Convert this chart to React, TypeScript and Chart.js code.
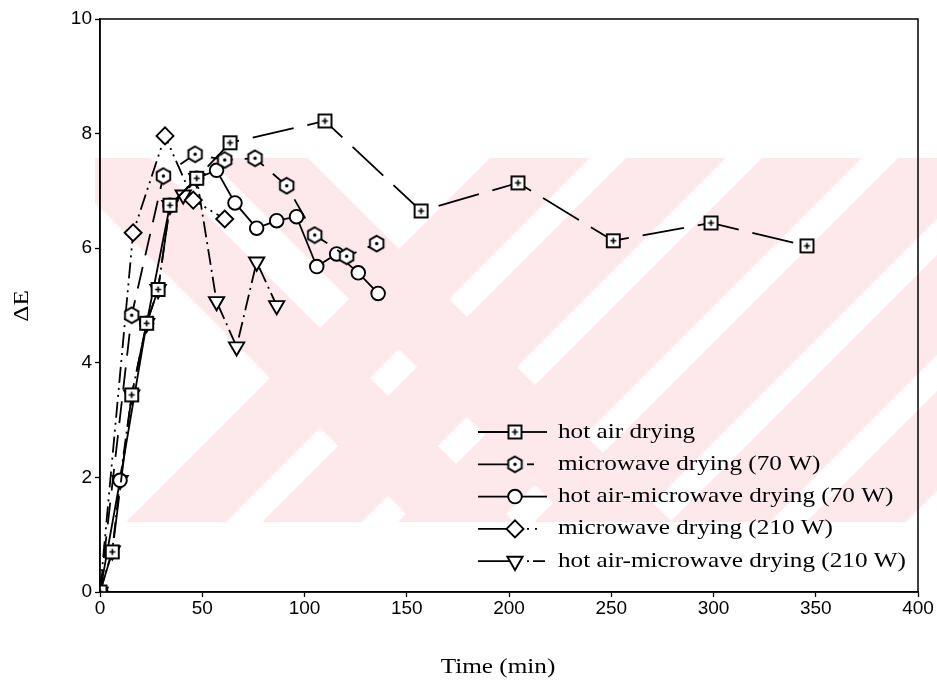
import React, { useEffect, useRef } from "react";
import { Chart, registerables } from "chart.js";
import { drawPoint } from "chart.js/helpers";

Chart.register(...registerables);

// Colour change (ΔE) against drying time for the five drying methods
const hotAirTime = [0, 6, 15.5, 22.8, 28.4, 34.2, 47.3, 63.6, 110, 157, 204.4, 251, 298.8, 345.7];
const hotAirDE = [0, 0.7, 3.44, 4.69, 5.28, 6.75, 7.22, 7.84, 8.22, 6.65, 7.14, 6.13, 6.44, 6.04];

const mw70Time = [0, 15.5, 31, 46.5, 61, 75.8, 91.3, 105, 120.6, 135.3];
const mw70DE = [0, 4.83, 7.26, 7.64, 7.54, 7.57, 7.09, 6.23, 5.86, 6.08];

const haMw70Time = [0, 9.8, 22.8, 34.2, 47.3, 57, 66, 76.6, 86.4, 96.1, 106, 115.7, 126.3, 136];
const haMw70DE = [0, 1.95, 4.69, 6.75, 7.22, 7.36, 6.79, 6.35, 6.48, 6.55, 5.68, 5.9, 5.57, 5.21];

const mw210Time = [0, 16.2, 31.8, 45.6, 61];
const mw210DE = [0, 6.27, 7.96, 6.84, 6.51];

const haMw210Time = [0, 6, 9.8, 15.5, 22.8, 28.4, 34.2, 40.7, 47.3, 57, 66.8, 76.6, 86.4];
const haMw210DE = [0, 0.72, 1.95, 3.44, 4.69, 5.28, 6.75, 6.93, 7.22, 5.07, 4.28, 5.76, 5.0];

const seriesLabels = [
  "hot air drying",
  "microwave drying (70 W)",
  "hot air-microwave drying (70 W)",
  "microwave drying (210 W)",
  "hot air-microwave drying (210 W)",
];

const xTicks = [0, 50, 100, 150, 200, 250, 300, 350, 400];
const yTicks = [0, 2, 4, 6, 8, 10];

const toPoints = (xs: number[], ys: number[]) => xs.map((x, i) => ({ x, y: ys[i] }));

// open square with a small plus inside
function squarePlusMarker(): HTMLCanvasElement {
  const c = document.createElement("canvas");
  c.width = 17;
  c.height = 17;
  const g = c.getContext("2d")!;
  g.fillStyle = "#fff";
  g.strokeStyle = "#000";
  g.lineWidth = 1.9;
  g.fillRect(2, 2, 13, 13);
  g.strokeRect(2, 2, 13, 13);
  g.lineWidth = 1.7;
  g.beginPath();
  g.moveTo(5.5, 8.5);
  g.lineTo(11.5, 8.5);
  g.moveTo(8.5, 5.5);
  g.lineTo(8.5, 11.5);
  g.stroke();
  return c;
}

// open hexagon (pointy top) with a dot in the middle
function hexDotMarker(): HTMLCanvasElement {
  const c = document.createElement("canvas");
  c.width = 19;
  c.height = 19;
  const g = c.getContext("2d")!;
  const cx = 9.5;
  const cy = 9.5;
  const r = 7.8;
  g.beginPath();
  for (let k = 0; k < 6; k++) {
    const a = (Math.PI / 3) * k - Math.PI / 2;
    const px = cx + r * Math.cos(a);
    const py = cy + r * Math.sin(a);
    if (k === 0) g.moveTo(px, py);
    else g.lineTo(px, py);
  }
  g.closePath();
  g.fillStyle = "#fff";
  g.fill();
  g.strokeStyle = "#000";
  g.lineWidth = 1.9;
  g.stroke();
  g.beginPath();
  g.arc(cx, cy, 1.7, 0, Math.PI * 2);
  g.fillStyle = "#000";
  g.fill();
  return c;
}

const serif = "'Liberation Serif', 'Times New Roman', serif";
const sans = "'Liberation Sans', Arial, sans-serif";

// faint pink diagonal stripes printed behind the plot
const watermarkPlugin = {
  id: "watermark",
  beforeDraw(chart: any) {
    const ctx = chart.ctx as CanvasRenderingContext2D;
    const top = 158;
    const bottom = 522;
    const h = bottom - top;
    const w = 100;
    ctx.save();
    ctx.beginPath();
    ctx.rect(95, top, 842, h);
    ctx.clip();
    ctx.fillStyle = "#fde8ec";
    // stripes falling to the right
    for (const s of [50, 208]) {
      ctx.beginPath();
      ctx.moveTo(s, top);
      ctx.lineTo(s + w, top);
      ctx.lineTo(s + w + h, bottom);
      ctx.lineTo(s + h, bottom);
      ctx.closePath();
      ctx.fill();
    }
    // stripes rising to the right
    for (const s of [490, 626, 762, 898, 1034, 1170]) {
      ctx.beginPath();
      ctx.moveTo(s, top);
      ctx.lineTo(s + w, top);
      ctx.lineTo(s + w - h, bottom);
      ctx.lineTo(s - h, bottom);
      ctx.closePath();
      ctx.fill();
    }
    ctx.restore();
  },
};

// the part of each legend sample drawn right of its marker
const legendTails: number[][] = [[], [7, 100], [], [2, 6, 2, 100], [2, 4, 12, 100]];

// frame, axis titles and the in-plot legend
const decorPlugin = {
  id: "decor",
  afterDraw(chart: any) {
    const ctx = chart.ctx as CanvasRenderingContext2D;
    const a = chart.chartArea;
    ctx.save();
    ctx.strokeStyle = "#000";
    ctx.lineWidth = 1.5;
    ctx.strokeRect(a.left, a.top, a.right - a.left, a.bottom - a.top);

    ctx.fillStyle = "#000";
    ctx.font = `21px ${serif}`;
    ctx.textAlign = "center";
    ctx.textBaseline = "middle";
    ctx.save();
    ctx.translate(498, 667);
    ctx.scale(1.2, 1);
    ctx.fillText("Time (min)", 0, 0);
    ctx.restore();

    ctx.save();
    ctx.translate(22, 306);
    ctx.rotate(-Math.PI / 2);
    ctx.scale(1.2, 1);
    ctx.fillText("ΔE", 0, 0);
    ctx.restore();

    // legend
    const x0 = 478;
    const xm = 515;
    const x1 = 547;
    const tx = 558;
    chart.data.datasets.forEach((ds: any, i: number) => {
      const y = 432 + i * 32.3;
      ctx.save();
      ctx.strokeStyle = "#000";
      ctx.lineWidth = 1.8;
      ctx.beginPath();
      ctx.moveTo(x0, y);
      ctx.lineTo(xm, y);
      ctx.stroke();
      const tail = legendTails[i];
      const tailStart = tail.length ? xm + 12 : xm;
      ctx.setLineDash(tail);
      ctx.beginPath();
      ctx.moveTo(tailStart, y);
      ctx.lineTo(x1, y);
      ctx.stroke();
      ctx.setLineDash([]);
      ctx.fillStyle = "#fff";
      ctx.strokeStyle = "#000";
      ctx.lineWidth = ds.pointBorderWidth;
      drawPoint(
        ctx,
        {
          pointStyle: ds.pointStyle,
          radius: ds.pointRadius,
          rotation: ds.pointRotation || 0,
          borderWidth: ds.pointBorderWidth,
        },
        xm,
        y
      );
      ctx.restore();
      ctx.save();
      ctx.fillStyle = "#000";
      ctx.font = `21px ${serif}`;
      ctx.textAlign = "left";
      ctx.textBaseline = "middle";
      ctx.translate(tx, y);
      ctx.scale(1.2, 1);
      ctx.fillText(ds.label, 0, 0);
      ctx.restore();
    });
    ctx.restore();
  },
};

export default function App() {
  const canvasRef = useRef<HTMLCanvasElement | null>(null);

  useEffect(() => {
    const canvas = canvasRef.current;
    if (!canvas) return;
    const square = squarePlusMarker();
    const hex = hexDotMarker();
    const common = {
      showLine: true,
      borderColor: "#000",
      borderWidth: 1.8,
      pointBorderColor: "#000",
      pointBackgroundColor: "#fff",
      pointBorderWidth: 1.9,
      pointHoverRadius: 0,
      tension: 0,
      fill: false,
    };
    const chart = new Chart(canvas, {
      type: "scatter",
      data: {
        datasets: [
          {
            ...common,
            label: seriesLabels[0],
            data: toPoints(hotAirTime, hotAirDE),
            borderDash: [42, 14],
            pointStyle: square,
            pointRadius: 7,
          },
          {
            ...common,
            label: seriesLabels[1],
            data: toPoints(mw70Time, mw70DE),
            borderDash: [22, 12],
            pointStyle: hex,
            pointRadius: 8,
          },
          {
            ...common,
            label: seriesLabels[2],
            data: toPoints(haMw70Time, haMw70DE),
            borderDash: [],
            pointStyle: "circle",
            pointRadius: 6.8,
          },
          {
            ...common,
            label: seriesLabels[3],
            data: toPoints(mw210Time, mw210DE),
            borderDash: [16, 5, 2, 5, 2, 5],
            pointStyle: "rectRot",
            pointRadius: 8.5,
          },
          {
            ...common,
            label: seriesLabels[4],
            data: toPoints(haMw210Time, haMw210DE),
            borderDash: [16, 5, 2, 5],
            pointStyle: "triangle",
            pointRotation: 180,
            pointRadius: 8.8,
          },
        ],
      },
      options: {
        animation: false,
        responsive: false,
        events: [],
        layout: { padding: { left: 0, right: 19, top: 19, bottom: 0 } },
        plugins: {
          legend: { display: false },
          tooltip: { enabled: false },
        },
        scales: {
          x: {
            type: "linear",
            min: 0,
            max: 400,
            afterFit: (s: any) => {
              s.height = 95;
            },
            afterBuildTicks: (s: any) => {
              s.ticks = xTicks.map((v) => ({ value: v }));
            },
            ticks: {
              color: "#000",
              font: { family: sans, size: 19 },
              padding: 0,
              maxRotation: 0,
              autoSkip: false,
            },
            grid: {
              drawOnChartArea: false,
              drawTicks: true,
              tickLength: 5,
              tickColor: "#000",
              tickWidth: 1.3,
            },
            border: { color: "#000", width: 1.5 },
          },
          y: {
            type: "linear",
            min: 0,
            max: 10,
            afterFit: (s: any) => {
              s.width = 100;
            },
            afterBuildTicks: (s: any) => {
              s.ticks = yTicks.map((v) => ({ value: v }));
            },
            ticks: {
              color: "#000",
              font: { family: sans, size: 19 },
              padding: 3,
              autoSkip: false,
            },
            grid: {
              drawOnChartArea: false,
              drawTicks: true,
              tickLength: 5,
              tickColor: "#000",
              tickWidth: 1.3,
            },
            border: { color: "#000", width: 1.5 },
          },
        },
      },
      plugins: [watermarkPlugin, decorPlugin],
    } as any);
    return () => chart.destroy();
  }, []);

  return (
    <div style={{ position: "absolute", left: 0, top: 0, width: 937, height: 687, background: "#fff" }}>
      <canvas ref={canvasRef} width={937} height={687} style={{ display: "block" }} />
    </div>
  );
}
